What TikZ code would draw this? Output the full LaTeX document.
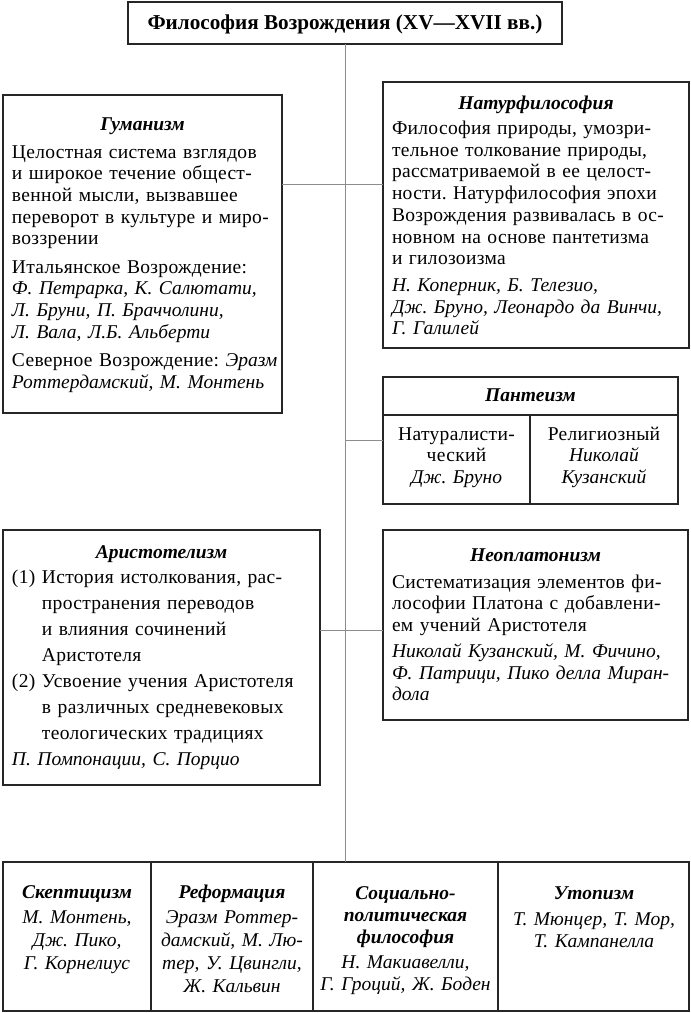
\documentclass[tikz,border=0pt]{standalone}
\usepackage{fontspec}
\setmainfont{Liberation Serif}
\newfontfamily\bodyfam{Liberation Serif}[LetterSpace=1.6]
\newcommand\bodyf{\bodyfam\fontsize{19.5}{21.7}\selectfont}
\newcommand\headf{\fontsize{19.5}{21.7}\selectfont\bfseries\itshape}
\newcommand\nm[1]{{\rmfamily\itshape #1}}
\begin{document}
\frenchspacing
\begin{tikzpicture}[x=1pt,y=-1pt,
  box/.style={draw=black!85, line width=1.5pt, inner sep=0pt, outer sep=0pt},
  divline/.style={draw=black!85, line width=1.5pt},
  conn/.style={draw=black!45, line width=0.8pt},
  head/.style={inner sep=0pt, outer sep=0pt, font=\headf, anchor=base},
  txt/.style={inner sep=0pt, outer sep=0pt, font=\bodyf, anchor=base west, align=left, text width=300pt},
  ctxt/.style={inner sep=0pt, outer sep=0pt, anchor=base, align=center}]
\useasboundingbox (0,0) rectangle (691,1013);

% boxes
\node[box, minimum width=434pt, minimum height=42pt] (title) at (345,23) {};
\node[box, minimum width=279pt, minimum height=318pt] (hum) at (142.5,254) {};
\node[box, minimum width=306pt, minimum height=266pt] (nat) at (536,215) {};
\node[box, minimum width=295pt, minimum height=127pt] (pan) at (530.5,440.5) {};
\node[box, minimum width=317pt, minimum height=255pt] (ari) at (161.5,657.5) {};
\node[box, minimum width=305pt, minimum height=190pt] (neo) at (535.5,625) {};
\node[box, minimum width=148pt, minimum height=149pt] (skep) at (77,936.5) {};
\node[box, minimum width=162pt, minimum height=149pt] (ref) at (232,936.5) {};
\node[box, minimum width=185pt, minimum height=149pt] (soc) at (405.5,936.5) {};
\node[box, minimum width=191pt, minimum height=149pt] (uto) at (593.5,936.5) {};
\draw[divline] (383,415) -- (678,415);
\draw[divline] (530,415) -- (530,504);

% connectors
\coordinate (j1) at (346,184);
\coordinate (j3) at (346,630);
\draw[conn] (title.south) -- (title.south |- soc.north);
\draw[conn] (hum.east |- j1) -- (nat.west |- j1);
\draw[conn] (pan.west) -- (pan.west -| title.south);
\draw[conn] (ari.east |- j3) -- (neo.west |- j3);

% title
\node[inner sep=0pt, anchor=base, font=\fontsize{21.2}{24}\selectfont\bfseries] (titletext) at (345,29) {Философия Возрождения (XV—XVII вв.)};

% Humanism
\node[head] (humh) at (142.5,130) {Гуманизм};
\node[txt] (humb) at (12,158) {%
Целостная система взглядов\\
и широкое течение общест-\\
венной мысли, вызвавшее\\
переворот в культуре и миро-\\
воззрении\\[6.5pt]
Итальянское Возрождение:\\
\nm{Ф. Петрарка, К. Салютати,}\\
\nm{Л. Бруни, П. Браччолини,}\\
\nm{Л. Вала, Л.Б. Альберти}\\[6.5pt]
Северное Возрождение: \nm{Эразм}\\
\nm{Роттердамский, М. Монтень}};

% Natural philosophy
\node[head] (nath) at (536,109) {Натурфилософия};
\node[txt] (natb) at (392,134.5) {%
Философия природы, умозри-\\
тельное толкование природы,\\
рассматриваемой в ее целост-\\
ности. Натурфилософия эпохи\\
Возрождения развивалась в ос-\\
новном на основе пантетизма\\
и гилозоизма\\[5pt]
\nm{Н. Коперник, Б. Телезио,}\\
\nm{Дж. Бруно, Леонардо да Винчи,}\\
\nm{Г. Галилей}};

% Pantheism
\node[head] (panh) at (530.5,401) {Пантеизм};
\node[ctxt, text width=140pt, font=\bodyfam\fontsize{19.5}{21.5}\selectfont] (panl) at (456.5,440) {Натуралисти-\\ческий\\\nm{Дж. Бруно}};
\node[ctxt, text width=140pt, font=\bodyfam\fontsize{19.5}{21.5}\selectfont] (panr) at (604,440) {Религиозный\\\nm{Николай}\\\nm{Кузанский}};

% Aristotelianism
\node[head] (arih) at (161.5,558.5) {Аристотелизм};
\node[txt, font=\bodyfam\fontsize{19.5}{26}\selectfont] (arib) at (12,583.5) {%
\makebox[30pt][l]{(1)}История истолкования, рас-\\
\hspace*{30pt}пространения переводов\\
\hspace*{30pt}и влияния сочинений\\
\hspace*{30pt}Аристотеля\\
\makebox[30pt][l]{(2)}Усвоение учения Аристотеля\\
\hspace*{30pt}в различных средневековых\\
\hspace*{30pt}теологических традициях\\
\nm{П. Помпонации, С. Порцио}};

% Neoplatonism
\node[head] (neoh) at (535.5,561) {Неоплатонизм};
\node[txt] (neob) at (392,588) {%
Систематизация элементов фи-\\
лософии Платона с добавлени-\\
ем учений Аристотеля\\[4.4pt]
\nm{Николай Кузанский, М. Фичино,}\\
\nm{Ф. Патрици, Пико делла Миран-}\\
\nm{дола}};

% bottom row
\node[ctxt, text width=140pt, font=\fontsize{19.5}{23}\selectfont\itshape] (skept) at (77,898) {%
\textbf{Скептицизм}\\[2pt]
М. Монтень,\\
Дж. Пико,\\
Г. Корнелиус};
\node[ctxt, text width=155pt, font=\fontsize{19.5}{23}\selectfont\itshape] (reft) at (232,898) {%
\textbf{Реформация}\\[2pt]
Эразм Роттер-\\
дамский, М. Лю-\\
тер, У. Цвингли,\\
Ж. Кальвин};
\node[ctxt, text width=180pt, font=\fontsize{19.5}{22}\selectfont\itshape] (soct) at (405.5,899.5) {%
\textbf{Социально-}\\
\textbf{политическая}\\
\textbf{философия}\\[3pt]
Н. Макиавелли,\\
Г. Гроций, Ж. Боден};
\node[ctxt, text width=185pt, font=\fontsize{19.5}{22}\selectfont\itshape] (utot) at (594,899.5) {%
\textbf{Утопизм}\\[4pt]
Т. Мюнцер, Т. Мор,\\
Т. Кампанелла};
\end{tikzpicture}
\end{document}
